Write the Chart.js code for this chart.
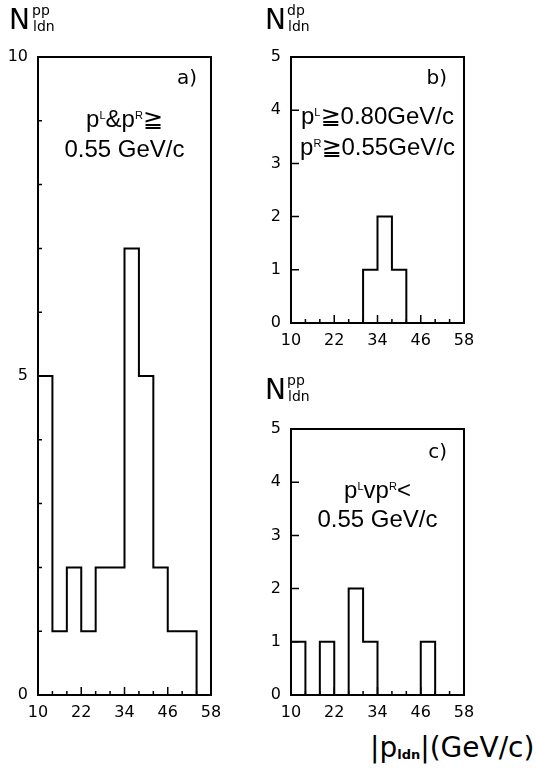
<!DOCTYPE html>
<html>
<head>
<meta charset="utf-8">
<script src="https://cdn.jsdelivr.net/npm/chart.js@4/dist/chart.umd.min.js"></script>
<style>
  body { margin: 0; background: #fff; }
  #page { position: relative; width: 536px; height: 772px; overflow: hidden; }
  canvas { position: absolute; }
  .t { position: absolute; color: #000; font-family: "DejaVu Sans", sans-serif; white-space: nowrap; }
  .big { font-size: 28px; line-height: 28px; }
  .small { font-size: 14px; line-height: 14px; }
  .note { position: absolute; text-align: center; color: #000; white-space: nowrap;
          font-family: "Liberation Sans", "DejaVu Sans", sans-serif; font-size: 24px; }
  .note sup { font-size: 11px; line-height: 0; vertical-align: 8px; }
  .tag { position: absolute; text-align: right; font-family: "DejaVu Sans", sans-serif;
         font-size: 20px; line-height: 20px; }
</style>
</head>
<body>
<div id="page">
  <canvas id="chart-a" width="230" height="730" style="left:0;top:0"></canvas>
  <canvas id="chart-b" width="234" height="358" style="left:250px;top:0"></canvas>
  <canvas id="chart-c" width="234" height="358" style="left:250px;top:372px"></canvas>

  <!-- axis titles -->
  <div class="t big" style="left:9px;top:6px">N</div>
  <div class="t small" style="left:32px;top:3px">pp</div>
  <div class="t small" style="left:33px;top:19px">ldn</div>

  <div class="t big" style="left:265px;top:6px">N</div>
  <div class="t small" style="left:287px;top:3px">dp</div>
  <div class="t small" style="left:288px;top:19px">ldn</div>

  <div class="t big" style="left:265px;top:376px">N</div>
  <div class="t small" style="left:287px;top:373px">pp</div>
  <div class="t small" style="left:288px;top:389px">ldn</div>

  <div class="t big" style="left:370px;top:734px">|p<span style="font-size:13px;font-weight:bold;vertical-align:-2px">ldn</span>|(GeV/c)</div>

  <!-- panel notes -->
  <div class="tag" style="left:38px;width:159px;top:67px">a)</div>
  <div class="note" style="left:38px;width:173px;top:104px;line-height:30px">p<sup>L</sup>&amp;p<sup>R</sup>≧<br>0.55 GeV/c</div>

  <div class="tag" style="left:291px;width:156px;top:67px">b)</div>
  <div class="note" style="left:291px;width:173px;top:100px;line-height:31px">p<sup>L</sup>≧0.80GeV/c<br>p<sup>R</sup>≧0.55GeV/c</div>

  <div class="tag" style="left:291px;width:156px;top:441px">c)</div>
  <div class="note" style="left:291px;width:173px;top:475px;line-height:29px">p<sup>L</sup>vp<sup>R</sup>&lt;<br>0.55 GeV/c</div>
</div>

<script>
// bins of |p_ldn| in GeV/c, 4 GeV/c wide
const binEdges = [10, 14, 18, 22, 26, 30, 34, 38, 42, 46, 50, 54, 58];
const countsA = [5, 1, 2, 1, 2, 2, 7, 5, 2, 1, 1, 0];
const countsB = [0, 0, 0, 0, 0, 1, 2, 1, 0, 0, 0, 0];
const countsC = [1, 0, 1, 0, 2, 1, 0, 0, 0, 1, 0, 0];
const xTickLabels = [10, 22, 34, 46, 58];

// outline of the histogram, walked bin by bin
function stepPoints(counts) {
    const last = binEdges[binEdges.length - 1];
    const pts = [{ x: binEdges[0], y: 0 }];
    counts.forEach((c, i) => pts.push({ x: binEdges[i], y: c }));
    pts.push({ x: last, y: counts[counts.length - 1] });
    pts.push({ x: last, y: 0 });
    return pts;
}

// box round the plot plus inward tick marks
const frameTicks = {
    id: 'frameTicks',
    afterDraw(chart) {
        const { ctx, chartArea: a, scales: { x, y } } = chart;
        ctx.save();
        ctx.strokeStyle = '#000';
        ctx.lineWidth = 2;
        ctx.strokeRect(a.left, a.top, a.right - a.left, a.bottom - a.top);
        ctx.lineWidth = 1.5;
        ctx.beginPath();
        x.ticks.forEach(t => {
            const px = x.getPixelForValue(t.value);
            const len = t.label !== '' ? 8 : 4;
            ctx.moveTo(px, a.bottom);
            ctx.lineTo(px, a.bottom - len);
        });
        y.ticks.forEach(t => {
            const py = y.getPixelForValue(t.value);
            const len = t.label !== '' ? 8 : 4;
            ctx.moveTo(a.left, py);
            ctx.lineTo(a.left + len, py);
        });
        ctx.stroke();
        ctx.restore();
    }
};

function makeHist(id, counts, yMax, yLabelEvery, yWidth, rightPad) {
    return new Chart(document.getElementById(id), {
        type: 'line',
        data: {
            datasets: [{
                data: stepPoints(counts),
                stepped: true,
                borderColor: '#000',
                borderWidth: 2,
                pointRadius: 0,
                fill: false
            }]
        },
        options: {
            responsive: false,
            animation: false,
            layout: { padding: { top: 57, right: rightPad, left: 0, bottom: 0 } },
            plugins: { legend: { display: false }, tooltip: { enabled: false } },
            scales: {
                x: {
                    type: 'linear',
                    min: 10, max: 58,
                    grid: { display: false, drawTicks: false },
                    border: { display: false },
                    afterFit: s => { s.height = 35; },
                    ticks: {
                        stepSize: 4,
                        autoSkip: false,
                        maxRotation: 0,
                        padding: 8,
                        color: '#000',
                        font: { family: 'DejaVu Sans', size: 16 },
                        callback: v => xTickLabels.includes(v) ? String(v) : ''
                    }
                },
                y: {
                    min: 0, max: yMax,
                    grid: { display: false, drawTicks: false },
                    border: { display: false },
                    afterFit: s => { s.width = yWidth; },
                    ticks: {
                        stepSize: 1,
                        padding: 10,
                        color: '#000',
                        font: { family: 'DejaVu Sans', size: 16 },
                        callback: v => v % yLabelEvery === 0 ? String(v) : ''
                    }
                }
            }
        },
        plugins: [frameTicks]
    });
}

makeHist('chart-a', countsA, 10, 5, 38, 19);
makeHist('chart-b', countsB, 5, 1, 41, 20);
makeHist('chart-c', countsC, 5, 1, 41, 20);
</script>
</body>
</html>
